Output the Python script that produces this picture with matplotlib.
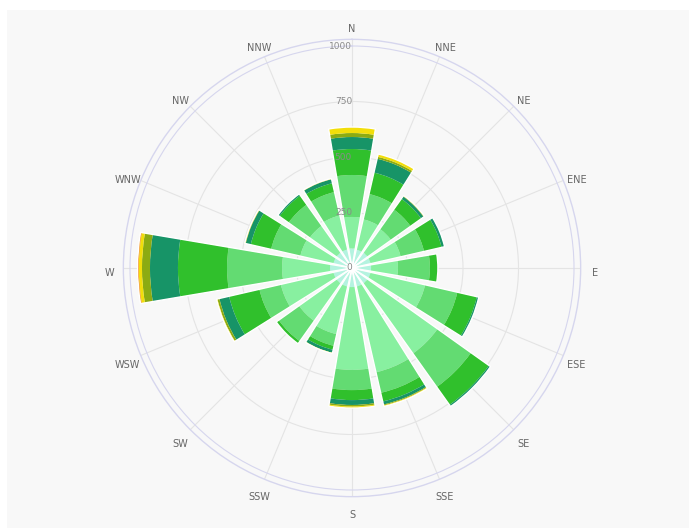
import numpy as np
import matplotlib.pyplot as plt
from matplotlib.patches import Rectangle

directions = ["N", "NNE", "NE", "ENE", "E", "ESE", "SE", "SSE",
              "S", "SSW", "SW", "WSW", "W", "WNW", "NW", "NNW"]

# stacked frequency bands, innermost first
band_1 = [88, 85, 86, 86, 86, 86, 86, 86, 86, 86, 86, 86, 99, 86, 86, 86]
band_2 = [142, 140, 130, 139, 121, 252, 387, 396, 373, 220, 207, 243, 216, 153, 148, 157]
band_3 = [189, 117, 108, 108, 144, 149, 185, 95, 91, 54, 112, 99, 248, 135, 117, 108]
band_4 = [117, 99, 59, 81, 36, 90, 99, 40, 45, 18, 14, 140, 221, 94, 50, 41]
band_5 = [54, 64, 13, 14, 0, 9, 9, 14, 22, 14, 0, 45, 126, 23, 9, 18]
band_6 = [18, 9, 3, 0, 0, 0, 0, 4, 7, 0, 0, 9, 36, 2, 0, 2]
band_7 = [27, 13, 2, 0, 0, 0, 0, 5, 7, 3, 0, 4, 14, 3, 0, 2]
band_8 = [0, 0, 0, 0, 0, 0, 0, 0, 0, 0, 0, 0, 6, 0, 0, 0]
bands = [band_1, band_2, band_3, band_4, band_5, band_6, band_7, band_8]

colors = ["#b4f3e0", "#88f0a0", "#63db72", "#30c02c",
          "#179467", "#8cab12", "#f2de0a", "#f28c0a"]

radial_ticks = [0, 250, 500, 750, 1000]

fig = plt.figure(figsize=(6.89, 5.28), dpi=100)
fig.patch.set_facecolor("white")
fig.patches.append(Rectangle((7 / 689, 0), 1 - 7 / 689, 518 / 528,
                             transform=fig.transFigure, facecolor="#f8f8f8",
                             edgecolor="none", zorder=-10))

# centre at (352, 268) px, 1000 units = 222 px, axis reaches 1030
rad = 1030 * 0.222
ax = fig.add_axes([(352 - rad) / 689, (528 - 268 - rad) / 528,
                   2 * rad / 689, 2 * rad / 528], projection="polar")
ax.set_facecolor("none")
ax.set_theta_zero_location("N")
ax.set_theta_direction(-1)

theta = np.radians(np.arange(len(directions)) * 22.5)
width = np.radians(22.5) * 0.85

bottom = np.zeros(len(directions))
for vals, c in zip(bands, colors):
    vals = np.array(vals, dtype=float)
    ax.bar(theta, vals, width=width, bottom=bottom, color=c,
           edgecolor="none", linewidth=0, zorder=2)
    bottom += vals
# white outline round each whole stack
ax.bar(theta, bottom, width=width, bottom=0, facecolor="none",
       edgecolor="white", linewidth=1.0, zorder=3)

ax.set_ylim(0, 1030)
ax.set_yticks([250, 500, 750, 1000])
ax.set_yticklabels([])
ax.set_xticks(theta)
ax.set_xticklabels([])
ax.grid(True, color="#e4e4e4", linewidth=0.8)
ax.set_axisbelow(True)
ax.yaxis.get_gridlines()[-1].set_color("#d6d6ee")
ax.spines["polar"].set_color("#d6d6ee")
ax.spines["polar"].set_linewidth(1.0)
ax.tick_params(length=0)

for v in radial_ticks:
    ax.text(0, v, str(v), ha="right", va="center", fontsize=6.5,
            color="#8a8a8a", zorder=5)

# direction labels sit ~243 px from the centre, nudged down a little
for t, d in zip(theta, directions):
    dx = 243 * np.sin(t) * 0.72
    dy = (243 * np.cos(t) - 4.5) * 0.72
    ax.annotate(d, xy=(t, 0), xytext=(dx, dy), textcoords="offset points",
                ha="center", va="center", fontsize=7, color="#666666",
                annotation_clip=False)

plt.savefig("out.png", dpi=100)
